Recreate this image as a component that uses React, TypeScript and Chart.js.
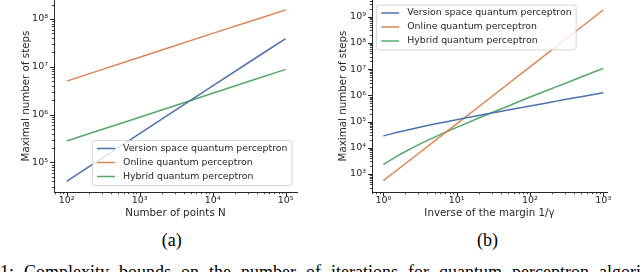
import React, { useEffect, useRef } from "react";
import { Chart, registerables } from "chart.js";

Chart.register(...registerables);

// ---------- data ----------
const seriesLabels = [
  "Version space quantum perceptron",
  "Online quantum perceptron",
  "Hybrid quantum perceptron",
];

// (a) steps vs number of points N
const nPoints = [100, 1000, 10000, 100000];
const versionSpaceA = [4.0e4, 4.0e5, 4.0e6, 3.9e7];
const onlineA = [5.0e6, 1.58e7, 5.0e7, 1.55e8];
const hybridA = [2.8e5, 8.8e5, 2.8e6, 8.8e6];

// (b) steps vs inverse of the margin 1/gamma
const inverseMargin = [1, 1.2, 1.5, 2, 3, 5, 7, 10, 20, 30, 50, 100, 200, 300, 500, 1000];
const versionSpaceB = [2.84e4, 3.25e4, 3.8e4, 4.6e4, 5.93e4, 8.03e4, 9.72e4, 1.18e5, 1.72e5, 2.12e5, 2.77e5, 3.94e5, 5.6e5, 6.88e5, 8.89e5, 1.26e6];
const onlineMargin = [1, 10, 100, 1000];
const onlineB = [555, 8.2e4, 1.22e7, 1.8e9];
const hybridB = [2.3e3, 3.17e3, 4.61e3, 7.22e3, 1.3e4, 2.56e4, 3.9e4, 6.03e4, 1.36e5, 2.17e5, 3.86e5, 8.6e5, 1.83e6, 2.85e6, 5.0e6, 1.07e7];

const captionA = "(a)";
const captionB = "(b)";
const bodyText = "1: Complexity bounds on the number of iterations for quantum perceptron algorithms";

// ---------- styles ----------
const COLORS = ["#4c72b0", "#dd8452", "#55a868"];
const INK = "#262626";
const FONT = '"DejaVu Sans", sans-serif';

const SUP = "⁰¹²³⁴⁵⁶⁷⁸⁹";
function powLabel(v: number): string {
  const l = Math.log10(v);
  const e = Math.round(l);
  if (Math.abs(l - e) > 1e-6) return "";
  return "10" + String(e).split("").map((c) => (c === "-" ? "⁻" : SUP[+c])).join("");
}

const tickPlugin = {
  id: "mplTicks",
  afterDraw(chart: any) {
    const ctx = chart.ctx;
    ctx.save();
    ctx.strokeStyle = INK;
    ctx.lineWidth = 1;
    for (const id of ["x", "y"]) {
      const s = chart.scales[id];
      const lo = Math.floor(Math.log10(s.min));
      const hi = Math.ceil(Math.log10(s.max));
      for (let e = lo; e <= hi; e++) {
        for (let m = 1; m <= 9; m++) {
          const v = m * Math.pow(10, e);
          if (v < s.min || v > s.max) continue;
          const p = Math.round(s.getPixelForValue(v)) + 0.5;
          const major = m === 1;
          const len = major ? 4 : 2.2;
          ctx.globalAlpha = major ? 1 : 0.85;
          ctx.beginPath();
          if (id === "x") {
            const t = Math.round(s.top);
            ctx.moveTo(p, t);
            ctx.lineTo(p, t + len);
          } else {
            const r = Math.round(s.right);
            ctx.moveTo(r - len, p);
            ctx.lineTo(r, p);
          }
          ctx.stroke();
        }
      }
    }
    ctx.restore();
  },
};

const legendPlugin = {
  id: "mplLegend",
  afterDraw(chart: any, _args: any, opts: any) {
    const { ctx, chartArea: ca } = chart;
    ctx.save();
    ctx.font = `9.4px ${FONT}`;
    const items = chart.data.datasets;
    const tw = Math.max(...items.map((d: any) => ctx.measureText(d.label).width));
    const w = 4.5 + 18 + 8 + tw + 4.5;
    const h = 45;
    const x = opts.corner === "br" ? ca.right - opts.dx - w : ca.left + opts.dx;
    const y = opts.corner === "br" ? ca.bottom - opts.dy - h : ca.top + opts.dy;
    const r = 2.5;
    ctx.beginPath();
    ctx.moveTo(x + r, y);
    ctx.arcTo(x + w, y, x + w, y + h, r);
    ctx.arcTo(x + w, y + h, x, y + h, r);
    ctx.arcTo(x, y + h, x, y, r);
    ctx.arcTo(x, y, x + w, y, r);
    ctx.closePath();
    ctx.fillStyle = "rgba(255,255,255,0.8)";
    ctx.fill();
    ctx.strokeStyle = "#cccccc";
    ctx.lineWidth = 0.8;
    ctx.stroke();
    items.forEach((d: any, i: number) => {
      const cy = y + 8 + i * 14;
      ctx.strokeStyle = d.borderColor;
      ctx.lineWidth = 1.5;
      ctx.beginPath();
      ctx.moveTo(x + 4.5, cy);
      ctx.lineTo(x + 22.5, cy);
      ctx.stroke();
      ctx.fillStyle = INK;
      ctx.textBaseline = "middle";
      ctx.textAlign = "left";
      ctx.fillText(d.label, x + 30.5, cy);
    });
    ctx.restore();
  },
};

function series(xs: number[], ys: number[], i: number) {
  return {
    label: seriesLabels[i],
    data: xs.map((x, k) => ({ x, y: ys[k] })),
    borderColor: COLORS[i],
    backgroundColor: COLORS[i],
    borderWidth: 1.5,
    pointRadius: 0,
    fill: false,
    cubicInterpolationMode: "monotone",
  };
}

function makeConfig(
  datasets: any[],
  xr: [number, number],
  yr: [number, number],
  xTitle: string,
  yTitlePad: number,
  rightPad: number,
  legendOpts: any
): any {
  const tickFont = { family: FONT, size: 9.5 };
  const titleFont = { family: FONT, size: 10.3 };
  return {
    type: "line",
    data: { datasets },
    options: {
      animation: false,
      responsive: false,
      maintainAspectRatio: false,
      layout: { padding: { left: 0, top: 0, right: rightPad, bottom: 0 } },
      scales: {
        x: {
          type: "logarithmic",
          min: Math.pow(10, xr[0]),
          max: Math.pow(10, xr[1]),
          grid: { display: false, drawTicks: false },
          border: { display: true, color: INK, width: 1 },
          ticks: {
            autoSkip: false,
            maxRotation: 0,
            padding: 3,
            color: INK,
            font: tickFont,
            callback: (v: any) => powLabel(Number(v)),
          },
          title: { display: true, text: xTitle, color: INK, font: titleFont, padding: { top: 0, bottom: 2 } },
          afterFit(s: any) {
            s.height = 30;
            s.paddingLeft = 0;
            s.paddingRight = 0;
          },
        },
        y: {
          type: "logarithmic",
          min: Math.pow(10, yr[0]),
          max: Math.pow(10, yr[1]),
          grid: { display: false, drawTicks: false },
          border: { display: true, color: INK, width: 1 },
          ticks: {
            autoSkip: false,
            padding: 6,
            color: INK,
            font: tickFont,
            callback: (v: any) => powLabel(Number(v)),
          },
          title: {
            display: true,
            text: "Maximal number of steps",
            color: INK,
            font: titleFont,
            padding: { top: yTitlePad, bottom: 0 },
          },
          afterFit(s: any) {
            s.width = 54;
            s.paddingTop = 0;
            s.paddingBottom = 0;
          },
        },
      },
      plugins: {
        legend: { display: false },
        tooltip: { enabled: false },
        mplLegend: legendOpts,
      },
    },
    plugins: [tickPlugin, legendPlugin],
  };
}

export default function App() {
  const refA = useRef<HTMLCanvasElement>(null);
  const refB = useRef<HTMLCanvasElement>(null);

  useEffect(() => {
    const a = new Chart(
      refA.current as HTMLCanvasElement,
      makeConfig(
        [series(nPoints, versionSpaceA, 0), series(nPoints, onlineA, 1), series(nPoints, hybridA, 2)],
        [1.826, 5.155],
        [4.379, 8.397],
        "Number of points N",
        20,
        3,
        { corner: "br", dx: 5, dy: 6.5 }
      )
    );
    const b = new Chart(
      refB.current as HTMLCanvasElement,
      makeConfig(
        [
          series(inverseMargin, versionSpaceB, 0),
          series(onlineMargin, onlineB, 1),
          series(inverseMargin, hybridB, 2),
        ],
        [-0.1456, 3.051],
        [2.3135, 9.637],
        "Inverse of the margin 1/γ",
        19,
        23,
        { corner: "tl", dx: 4.7, dy: 5 }
      )
    );
    return () => {
      a.destroy();
      b.destroy();
    };
  }, []);

  const serif = '"Liberation Serif", "Times New Roman", serif';
  const cap: React.CSSProperties = {
    position: "absolute",
    width: 80,
    top: 231,
    textAlign: "center",
    fontFamily: serif,
    fontSize: 18,
    lineHeight: "18px",
    color: "#000",
  };
  return (
    <div
      style={{
        position: "fixed",
        left: 0,
        top: 0,
        width: 640,
        height: 272,
        background: "#fff",
        overflow: "hidden",
      }}
    >
      <canvas ref={refA} width={300} height={222} style={{ position: "absolute", left: 0, top: 0 }} />
      <canvas ref={refB} width={312} height={222} style={{ position: "absolute", left: 318, top: 0 }} />
      <div style={{ ...cap, left: 171.7 - 40 }}>{captionA}</div>
      <div style={{ ...cap, left: 487.5 - 40 }}>{captionB}</div>
      <div
        style={{
          position: "absolute",
          left: 0,
          top: 263,
          whiteSpace: "nowrap",
          fontFamily: serif,
          fontSize: 18,
          lineHeight: "18px",
          wordSpacing: 5.5,
          color: "#000",
        }}
      >
        {bodyText}
      </div>
    </div>
  );
}
